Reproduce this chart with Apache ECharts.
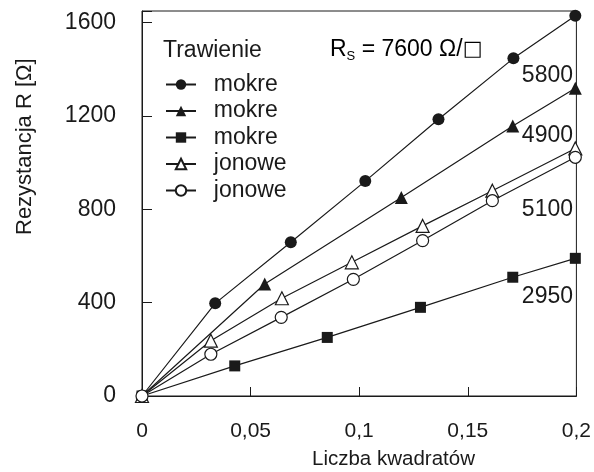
<!DOCTYPE html>
<html>
<head>
<meta charset="utf-8">
<script src="https://cdn.jsdelivr.net/npm/echarts@6/dist/echarts.min.js"></script>
<style>
  html, body { margin: 0; padding: 0; background: #fff; }
  #chart { width: 594px; height: 472px; }
</style>
</head>
<body>
<div id="chart"></div>
<script>
// values
var legendNames = ['mokre', 'mokre', 'mokre', 'jonowe', 'jonowe'];
var sheetRes = ['5800', '4900', '5100', '2950'];

// mokre, filled circle (5800)
var xCircleFull = [0, 0.0337, 0.0685, 0.1028, 0.1365, 0.171, 0.1995];
var yCircleFull = [0, 397, 659, 921, 1186, 1447, 1630];
// mokre, filled triangle (4900)
var xTriFull = [0, 0.0565, 0.1194, 0.1707, 0.1995];
var yTriFull = [0, 480, 851, 1157, 1319];
// mokre, filled square (2950)
var xSquare = [0, 0.0427, 0.0853, 0.1282, 0.1707, 0.1995];
var ySquare = [0, 129, 251, 380, 509, 590];
// jonowe, open triangle
var xTriOpen = [0, 0.0317, 0.0644, 0.0966, 0.1292, 0.1613, 0.1995];
var yTriOpen = [0, 237, 419, 573, 729, 880, 1061];
// jonowe, open circle
var xCircleOpen = [0, 0.0317, 0.0641, 0.0973, 0.1292, 0.1613, 0.1995];
var yCircleOpen = [0, 179, 337, 500, 666, 837, 1023];

var xTicks = [0, 0.05, 0.1, 0.15, 0.2];
var yTicks = [0, 400, 800, 1200, 1600];

function pairs(xs, ys) {
    var out = [];
    for (var i = 0; i < xs.length; i++) out.push([xs[i], ys[i]]);
    return out;
}

var ink = '#1a1a1a';
var font = 'Liberation Sans';

function makeSeries(name, symbol, size, open, xs, ys) {
    return {
        name: name,
        type: 'line',
        symbol: symbol,
        symbolSize: size,
        showAllSymbol: true,
        lineStyle: { color: ink, width: 1.2 },
        itemStyle: {
            color: open ? '#fff' : ink,
            borderColor: ink,
            borderWidth: open ? 1.2 : 0
        },
        data: pairs(xs, ys),
        animation: false
    };
}

var chart = echarts.init(document.getElementById('chart'));

// legend labels repeat, so series get unique ids and the legend shows the display name
var seriesIds = ['s1', 's2', 's3', 's4', 's5'];

var option = {
    backgroundColor: '#fff',
    grid: {
        left: 142, right: 13, top: 11, bottom: 76,
        show: true, borderColor: ink, borderWidth: 1
    },
    legend: {
        orient: 'vertical',
        left: 160, top: 68,
        itemWidth: 30, itemHeight: 13, itemGap: 3.5,
        textStyle: { fontFamily: font, fontSize: 23, color: ink },
        data: seriesIds.map(function (id) { return { name: id }; }),
        formatter: function (name) { return '  ' + legendNames[seriesIds.indexOf(name)]; }
    },
    xAxis: {
        type: 'value',
        min: 0, max: 0.2, interval: 0.05,
        axisLine: { lineStyle: { color: ink } },
        axisTick: { inside: true, length: 9, lineStyle: { color: ink } },
        splitLine: { show: false },
        axisLabel: {
            fontFamily: font, fontSize: 21, color: ink, margin: 25,
            formatter: function (v) { return xTicks.indexOf(+v.toFixed(2)) >= 0 ? String(+v.toFixed(2)).replace('.', ',') : ''; }
        }
    },
    yAxis: {
        type: 'value',
        min: 0, max: 1650, interval: 400,
        axisLine: { lineStyle: { color: ink } },
        axisTick: { inside: true, length: 10, lineStyle: { color: ink } },
        splitLine: { show: false },
        axisLabel: {
            fontFamily: font, fontSize: 23, color: ink, margin: 26,
            formatter: function (v) { return yTicks.indexOf(v) >= 0 ? String(v) : ''; }
        }
    },
    graphic: [
        { type: 'text', left: 163, top: 39, style: { text: 'Trawienie', font: '23px ' + font, fill: ink } },
        {
            type: 'text', left: 330, top: 38,
            style: {
                text: '{a|R}{s|S}{a| = 7600 Ω/}{q|□}',
                rich: {
                    a: { fontFamily: font, fontSize: 23, color: ink },
                    s: { fontFamily: font, fontSize: 13, color: ink, padding: [14, 0, 0, 0] },
                    q: { fontFamily: 'DejaVu Sans', fontSize: 21, color: '#aaa' }
                }
            }
        },
        { type: 'text', right: 21, top: 64, style: { text: sheetRes[0], font: '23px ' + font, fill: ink } },
        { type: 'text', right: 21, top: 124, style: { text: sheetRes[1], font: '23px ' + font, fill: ink } },
        { type: 'text', right: 21, top: 198, style: { text: sheetRes[2], font: '23px ' + font, fill: ink } },
        { type: 'text', right: 21, top: 285, style: { text: sheetRes[3], font: '23px ' + font, fill: ink } },
        { type: 'text', left: 312, top: 449, style: { text: 'Liczba kwadratów', font: '20.5px ' + font, fill: ink } },
        {
            type: 'text', x: 14, y: 235, rotation: Math.PI / 2,
            style: { text: 'Rezystancja R [Ω]', font: '22px ' + font, fill: ink }
        }
    ],
    series: [
        makeSeries('s1', 'circle', 12, false, xCircleFull, yCircleFull),
        makeSeries('s2', 'triangle', 13, false, xTriFull, yTriFull),
        makeSeries('s3', 'rect', 11, false, xSquare, ySquare),
        makeSeries('s4', 'triangle', 13, true, xTriOpen, yTriOpen),
        makeSeries('s5', 'circle', 12, true, xCircleOpen, yCircleOpen)
    ]
};

chart.setOption(option);
</script>
</body>
</html>
